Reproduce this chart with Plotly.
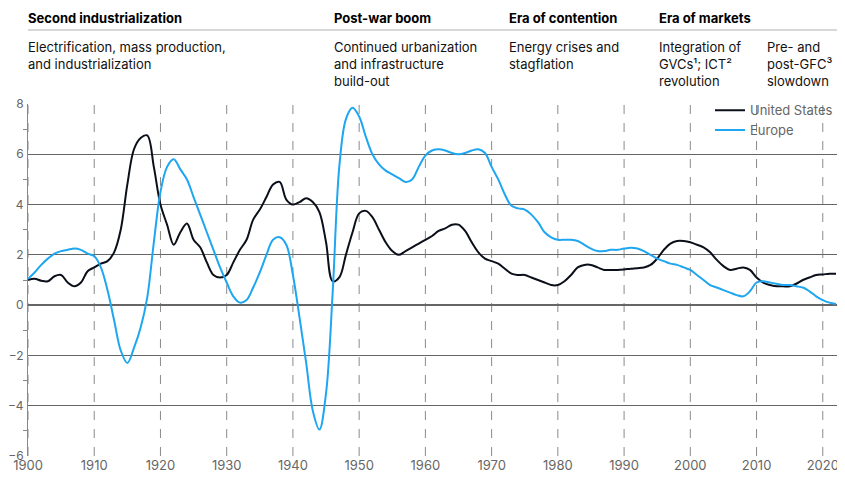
import plotly.graph_objects as go

years = list(range(1900, 2023))

us = [1.0, 1.05, 0.97, 0.95, 1.15, 1.2, 0.9, 0.75, 0.9, 1.35,
      1.5, 1.65, 1.75, 2.1, 3.0, 4.8, 6.2, 6.65, 6.75, 5.5,
      4.0, 3.2, 2.4, 2.9, 3.25, 2.6, 2.3, 1.7, 1.2, 1.1,
      1.2, 1.7, 2.2, 2.6, 3.4, 3.8, 4.3, 4.8, 4.9, 4.2,
      4.0, 4.1, 4.25, 4.1, 3.7, 2.5, 0.95, 1.1, 2.0, 2.9,
      3.65, 3.75, 3.5, 3.0, 2.5, 2.15, 2.0, 2.15, 2.3, 2.45,
      2.6, 2.75, 2.95, 3.05, 3.2, 3.2, 2.95, 2.5, 2.1, 1.85,
      1.75, 1.65, 1.45, 1.25, 1.2, 1.2, 1.1, 1.0, 0.9, 0.8,
      0.8, 0.95, 1.2, 1.5, 1.6, 1.6, 1.5, 1.4, 1.4, 1.4,
      1.42, 1.45, 1.47, 1.5, 1.6, 1.85, 2.2, 2.45, 2.55, 2.55,
      2.5, 2.4, 2.3, 2.1, 1.8, 1.55, 1.4, 1.45, 1.5, 1.4,
      1.1, 0.9, 0.8, 0.75, 0.75, 0.75, 0.85, 1.0, 1.1, 1.2,
      1.22, 1.25, 1.25]

europe = [1.05, 1.3, 1.6, 1.85, 2.05, 2.15, 2.2, 2.25, 2.2, 2.05,
          1.95, 1.5, 0.6, -0.6, -1.8, -2.3, -1.7, -0.9, 0.3, 2.5,
          4.5, 5.5, 5.8, 5.4, 5.0, 4.3, 3.6, 2.9, 2.2, 1.5,
          0.9, 0.35, 0.1, 0.2, 0.7, 1.3, 2.0, 2.6, 2.7, 2.4,
          1.2, -0.5, -2.3, -4.2, -4.95, -3.5, 0.5, 5.5, 7.4, 7.85,
          7.5, 6.7, 6.0, 5.6, 5.35, 5.2, 5.05, 4.9, 5.0, 5.5,
          5.95, 6.15, 6.2, 6.15, 6.05, 6.0, 6.05, 6.15, 6.2, 6.05,
          5.5, 5.0, 4.4, 3.95, 3.85, 3.8, 3.6, 3.3, 2.9, 2.7,
          2.6, 2.6, 2.6, 2.55, 2.4, 2.25, 2.15, 2.15, 2.2, 2.2,
          2.25, 2.28, 2.25, 2.15, 2.0, 1.85, 1.75, 1.65, 1.6, 1.5,
          1.4, 1.2, 1.0, 0.8, 0.7, 0.6, 0.5, 0.4, 0.35, 0.55,
          0.9, 0.95, 0.9, 0.85, 0.8, 0.8, 0.75, 0.7, 0.55, 0.35,
          0.2, 0.1, 0.05]

eras = ["Second industrialization", "Post-war boom", "Era of contention", "Era of markets", ""]
era_notes = ["Electrification, mass production,<br>and industrialization",
             "Continued urbanization<br>and infrastructure<br>build-out",
             "Energy crises and<br>stagflation",
             "Integration of<br>GVCs¹; ICT²<br>revolution",
             "Pre- and<br>post-GFC³<br>slowdown"]
era_x = [28, 334, 509, 659, 767]

# the page body adds an 8px offset, so the figure is sized to fit the window
OFF = 8
W, H = 845 - OFF, 479 - OFF
L, R, T, B = 28 - OFF, 7, 104 - OFF, 23
PW, PH = W - L - R, H - T - B

fig = go.Figure()
fig.add_trace(go.Scatter(x=years, y=us, name="United States", mode="lines",
                         line=dict(color="#0b0f1a", width=2, shape="spline")))
fig.add_trace(go.Scatter(x=years, y=europe, name="Europe", mode="lines",
                         line=dict(color="#1ea6f0", width=2, shape="spline")))

for yr in range(1900, 2030, 10):
    fig.add_vline(x=yr, line=dict(color="#8a8a8a", width=1, dash="dash"), layer="below")

fig.add_shape(type="line", xref="paper", yref="paper", x0=0, x1=1,
              y0=1 + (104 - 30) / PH, y1=1 + (104 - 30) / PH,
              line=dict(color="#b0b0b0", width=1))

for name, note, px in zip(eras, era_notes, era_x):
    xp = (px - 28) / PW
    if name:
        fig.add_annotation(x=xp, y=1 + (104 - 18) / PH, xref="paper", yref="paper",
                           text=f"<b>{name}</b>", showarrow=False, xanchor="left",
                           yanchor="middle", xshift=-2, font=dict(size=13, color="#000"))
    fig.add_annotation(x=xp, y=1 + (104 - 37) / PH, xref="paper", yref="paper",
                       text=note, showarrow=False, xanchor="left", yanchor="top",
                       align="left", xshift=-2, font=dict(size=13, color="#111"))

fig.update_layout(
    width=W, height=H, margin=dict(l=L, r=R, t=T, b=B, autoexpand=False),
    plot_bgcolor="white", paper_bgcolor="white",
    font=dict(family="Inter, Roboto, sans-serif", color="#666", size=13),
    legend=dict(x=1.0, y=1.025, xanchor="right", yanchor="top", bgcolor="rgba(0,0,0,0)",
                font=dict(size=13, color="#666"), itemwidth=30, tracegroupgap=2),
    xaxis=dict(range=[1900, 2022.3], tickvals=list(range(1900, 2030, 10)),
               showgrid=False, zeroline=False, ticks="", automargin=False,
               tickfont=dict(size=13, color="#666")),
    yaxis=dict(range=[-6, 8], dtick=2, showgrid=True, gridcolor="#666", gridwidth=1,
               zeroline=True, zerolinecolor="#666", zerolinewidth=1.5, ticks="",
               automargin=False, ticklabelstandoff=1,
               tickfont=dict(size=12, color="#666"),
               minor=dict(dtick=1, ticks="outside", ticklen=4, tickcolor="#888", showgrid=False),
               showline=True, linecolor="#888", linewidth=1),
    showlegend=True,
)

fig.write_html("out.html")
